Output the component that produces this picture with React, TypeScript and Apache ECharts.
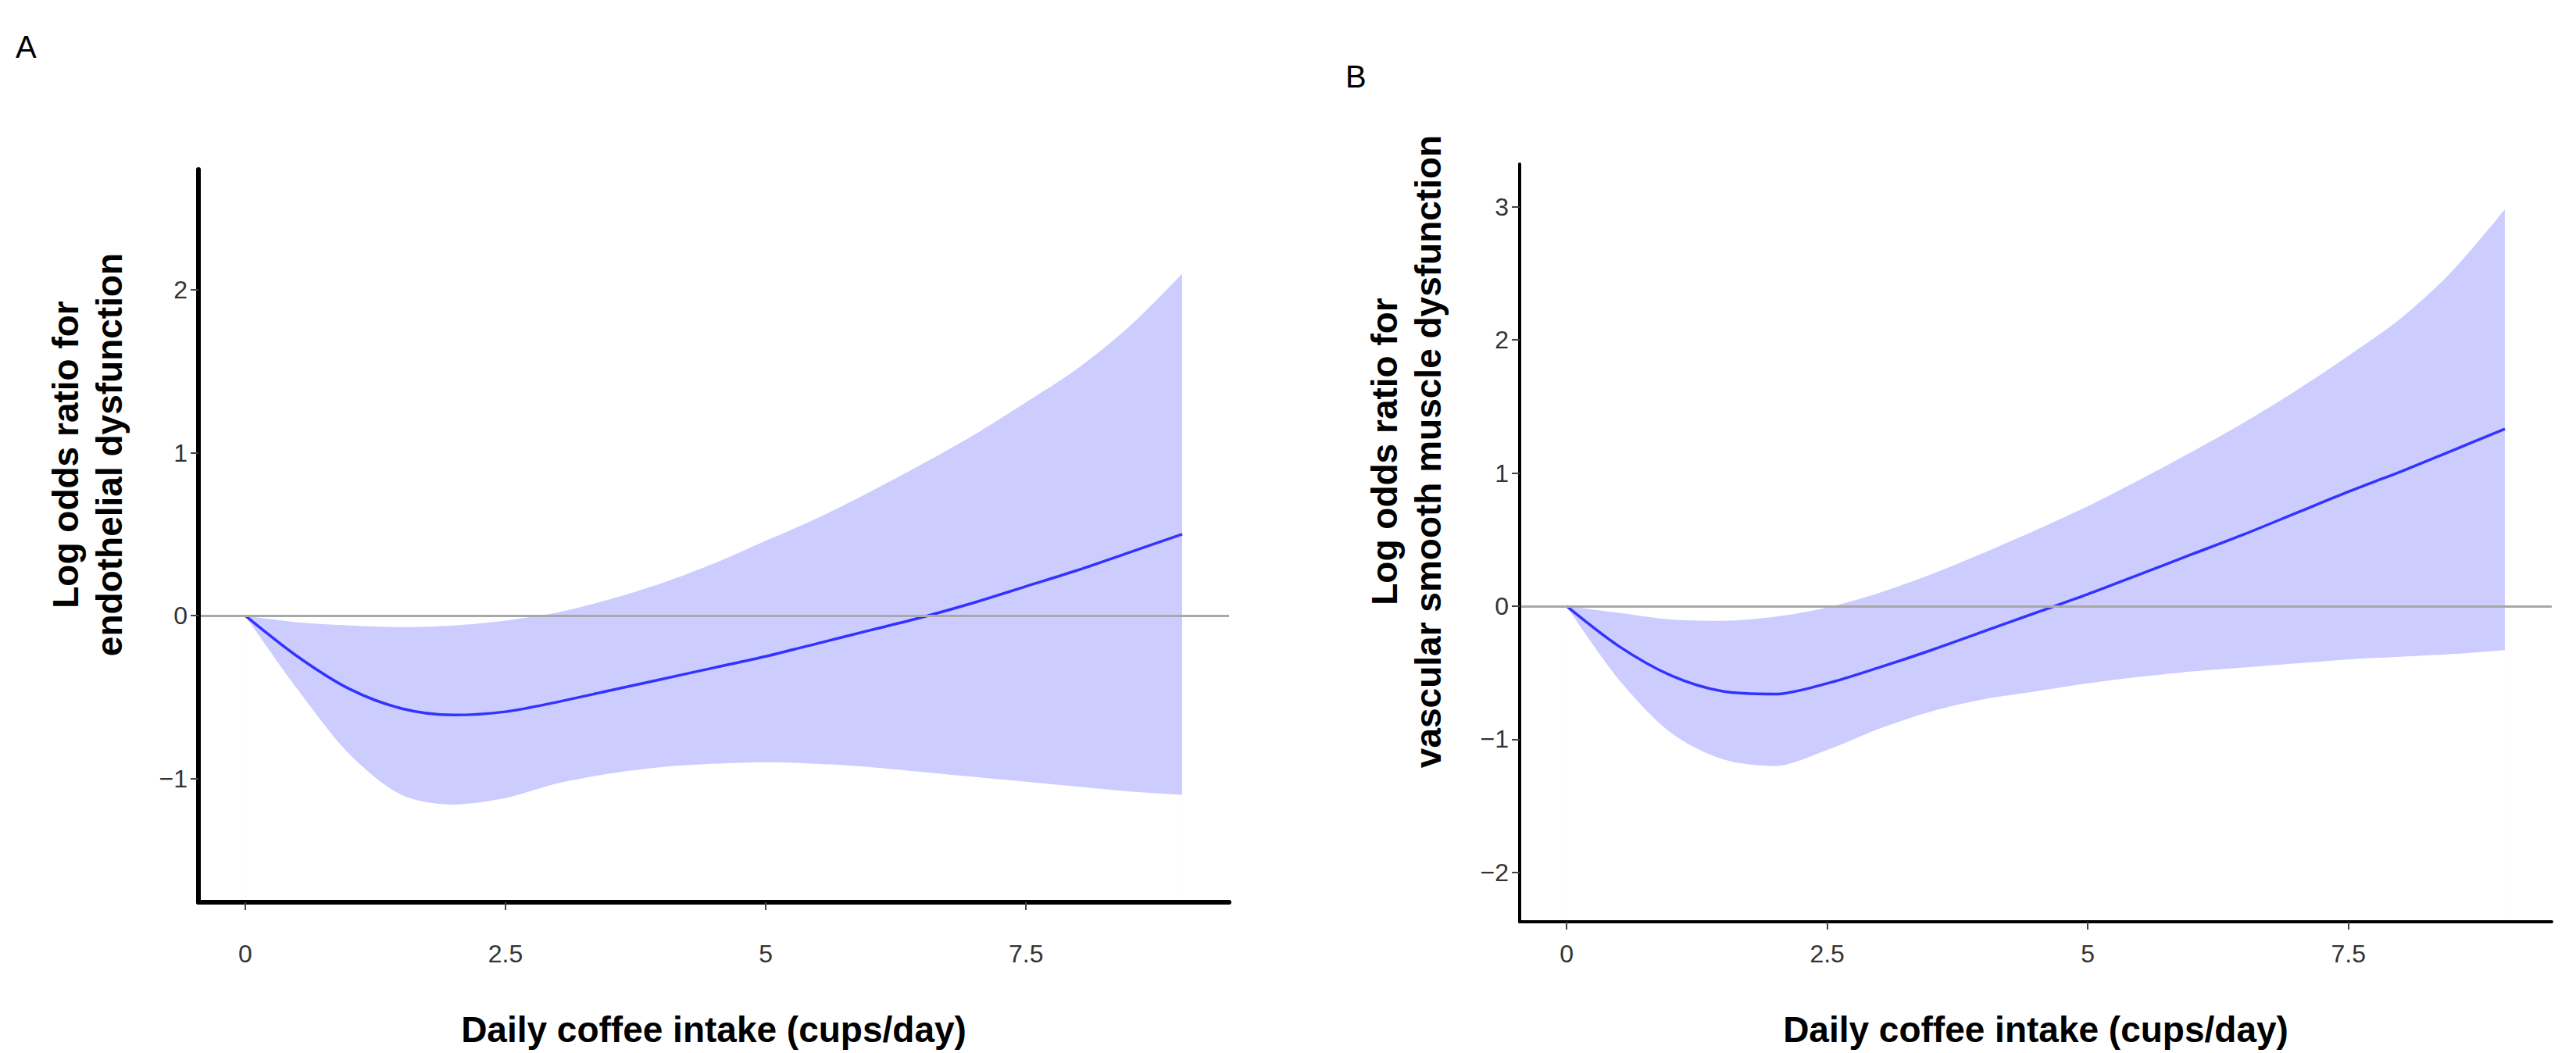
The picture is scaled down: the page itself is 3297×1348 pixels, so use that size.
import React, { useEffect, useRef } from "react";
import * as echarts from "echarts";

const xs = [0, 0.5, 1, 1.5, 2, 2.5, 3, 3.5, 4, 4.5, 5, 5.5, 6, 6.5, 7, 7.5, 8, 8.5, 9];

const lineA = [0, -0.25, -0.45, -0.57, -0.61, -0.59, -0.53, -0.46, -0.39, -0.32, -0.25, -0.17, -0.09, -0.01, 0.08, 0.18, 0.28, 0.39, 0.5];
const upperA = [0, -0.04, -0.06, -0.07, -0.06, -0.03, 0.02, 0.1, 0.2, 0.32, 0.46, 0.6, 0.76, 0.93, 1.11, 1.31, 1.52, 1.78, 2.1];
const lowerA = [0, -0.45, -0.85, -1.1, -1.16, -1.12, -1.03, -0.97, -0.93, -0.91, -0.9, -0.91, -0.93, -0.96, -0.99, -1.02, -1.05, -1.08, -1.1];

const lineB = [0, -0.3, -0.52, -0.64, -0.66, -0.58, -0.46, -0.33, -0.19, -0.05, 0.09, 0.24, 0.39, 0.54, 0.7, 0.86, 1.01, 1.17, 1.33];
const upperB = [0, -0.05, -0.1, -0.11, -0.08, -0.01, 0.1, 0.24, 0.4, 0.57, 0.75, 0.95, 1.16, 1.38, 1.62, 1.88, 2.16, 2.52, 2.98];
const lowerB = [0, -0.55, -0.95, -1.15, -1.2, -1.08, -0.92, -0.79, -0.7, -0.64, -0.58, -0.53, -0.49, -0.46, -0.43, -0.4, -0.38, -0.36, -0.33];

const xTicks = [0, 2.5, 5, 7.5];
const yTicksA = [-1, 0, 1, 2];
const yTicksB = [-2, -1, 0, 1, 2, 3];

const xTitle = "Daily coffee intake (cups/day)";
const yTitleA = "Log odds ratio for\nendothelial dysfunction";
const yTitleB = "Log odds ratio for\nvascular smooth muscle dysfunction";

const FONT = '"Liberation Sans", Arial, sans-serif';
const BAND = "#CCCCFF";
const LINE = "#3333FF";

const fmt = (v: number) => (v < 0 ? "\u2212" + Math.abs(v) : String(v));

function pairs(x: number[], y: number[]) {
  return x.map((v, i) => [v, y[i]]);
}

function panelSeries(idx: number, line: number[], upper: number[], lower: number[]) {
  return [
    {
      type: "line",
      xAxisIndex: idx,
      yAxisIndex: idx,
      data: pairs(xs, upper),
      smooth: 0.3,
      symbol: "none",
      z: 1,
      lineStyle: { width: 0, opacity: 0 },
      areaStyle: { color: BAND, opacity: 1, origin: "start" },
      silent: true,
    },
    {
      type: "line",
      xAxisIndex: idx,
      yAxisIndex: idx,
      data: pairs(xs, lower),
      smooth: 0.3,
      symbol: "none",
      z: 1,
      lineStyle: { width: 0, opacity: 0 },
      areaStyle: { color: "#FFFFFF", opacity: 1, origin: "start" },
      silent: true,
    },
    {
      type: "line",
      xAxisIndex: idx,
      yAxisIndex: idx,
      data: [],
      z: 2,
      markLine: {
        silent: true,
        symbol: "none",
        label: { show: false },
        lineStyle: { color: "#A8A8A8", width: 3, type: "solid" },
        data: [{ yAxis: 0 }],
      },
    },
    {
      type: "line",
      xAxisIndex: idx,
      yAxisIndex: idx,
      data: pairs(xs, line),
      smooth: 0.3,
      symbol: "none",
      z: 3,
      lineStyle: { color: LINE, width: 3.5 },
    },
  ];
}

function xAxisCfg(idx: number, labelMargin: number, nameGap: number, lineW: number) {
  return {
    type: "value",
    gridIndex: idx,
    min: -0.45,
    max: 9.45,
    z: 5,
    name: xTitle,
    nameLocation: "middle",
    nameGap,
    nameTextStyle: { fontFamily: FONT, fontWeight: "bold", fontSize: 46, color: "#000" },
    axisLine: { onZero: false, lineStyle: { color: "#000", width: lineW } },
    axisTick: { show: true, customValues: xTicks, length: 10, lineStyle: { color: "#444", width: 2 } },
    axisLabel: { customValues: xTicks, margin: labelMargin, fontFamily: FONT, fontSize: 32, color: "#333", formatter: fmt },
    splitLine: { show: false },
  };
}

function yAxisCfg(idx: number, min: number, max: number, ticks: number[], lineW: number) {
  return {
    type: "value",
    gridIndex: idx,
    min,
    max,
    z: 5,
    axisLine: { show: true, onZero: false, lineStyle: { color: "#000", width: lineW } },
    axisTick: { show: true, customValues: ticks, length: 10, lineStyle: { color: "#444", width: 2 } },
    axisLabel: { customValues: ticks, margin: 14, fontFamily: FONT, fontSize: 32, color: "#333", formatter: fmt },
    splitLine: { show: false },
  };
}

export default function App() {
  const ref = useRef<HTMLDivElement>(null);
  useEffect(() => {
    document.body.style.margin = "0";
    if (!ref.current) return;
    const chart = echarts.init(ref.current, undefined, { renderer: "svg" });
    chart.setOption({
      animation: false,
      backgroundColor: "#fff",
      grid: [
        { left: 254, top: 217, width: 1573 - 254, height: 1155 - 217 },
        { left: 1945, top: 210, width: 3266 - 1945, height: 1180 - 210 },
      ],
      xAxis: [xAxisCfg(0, 50, 140, 6), xAxisCfg(1, 25, 115, 4)],
      yAxis: [yAxisCfg(0, -1.76, 2.74, yTicksA, 6), yAxisCfg(1, -2.37, 3.32, yTicksB, 4)],
      series: [...panelSeries(0, lineA, upperA, lowerA), ...panelSeries(1, lineB, upperB, lowerB)],
      graphic: [
        { type: "text", x: 20, y: 40, style: { text: "A", font: `40px ${FONT}`, fill: "#000" } },
        { type: "text", x: 1722, y: 78, style: { text: "B", font: `40px ${FONT}`, fill: "#000" } },
        {
          type: "text",
          x: 112,
          y: 582,
          rotation: Math.PI / 2,
          style: { text: yTitleA, font: `bold 46px ${FONT}`, fill: "#000", align: "center", verticalAlign: "middle", lineHeight: 56 },
        },
        {
          type: "text",
          x: 1800,
          y: 578,
          rotation: Math.PI / 2,
          style: { text: yTitleB, font: `bold 46px ${FONT}`, fill: "#000", align: "center", verticalAlign: "middle", lineHeight: 56 },
        },
      ],
    });
    return () => chart.dispose();
  }, []);
  return <div ref={ref} style={{ width: 3297, height: 1348 }} />;
}
